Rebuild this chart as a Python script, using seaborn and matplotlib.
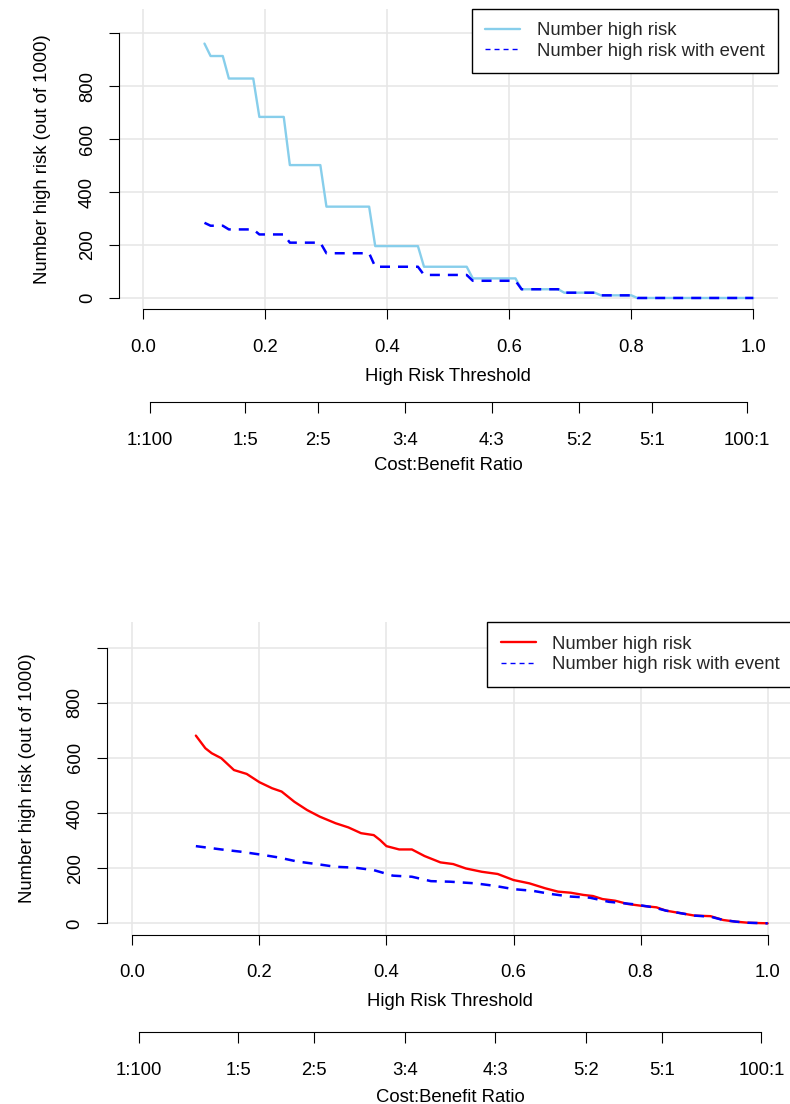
import numpy as np
import pandas as pd
import matplotlib
matplotlib.use("Agg")
import matplotlib.pyplot as plt
import seaborn as sns
from matplotlib.lines import Line2D

# ---------------- data ----------------
# Panel 1: step curves -- threshold where each level starts, and the level
top_level_start = [0.10, 0.11, 0.14, 0.19, 0.24, 0.30, 0.38, 0.46, 0.54, 0.62, 0.69, 0.75, 0.81]
top_high_risk = [961, 914, 829, 684, 502, 345, 196, 118, 74, 33, 20, 10, 0]
top_high_risk_event = [284, 273, 259, 240, 209, 169, 118, 87, 65, 33, 20, 10, 0]

# Panel 2: near-continuous curves
bot_risk_thr = [0.10, 0.115, 0.125, 0.14, 0.16, 0.18, 0.20, 0.22, 0.235, 0.255, 0.275, 0.295,
                0.32, 0.34, 0.36, 0.38, 0.39, 0.40, 0.42, 0.44, 0.46, 0.485, 0.505, 0.525,
                0.55, 0.575, 0.60, 0.625, 0.65, 0.67, 0.69, 0.71, 0.725, 0.74, 0.76, 0.78,
                0.80, 0.825, 0.84, 0.865, 0.885, 0.91, 0.93, 0.95, 0.97, 1.00]
bot_high_risk = [681, 635, 617, 599, 556, 542, 512, 490, 478, 441, 411, 387,
                 363, 348, 327, 320, 302, 280, 268, 268, 244, 221, 215, 199,
                 187, 179, 157, 145, 127, 115, 111, 103, 99, 88, 82, 70,
                 64, 58, 46, 36, 28, 26, 12, 6, 2, 0]
bot_event_thr = [0.10, 0.14, 0.17, 0.20, 0.23, 0.26, 0.29, 0.32, 0.35, 0.38, 0.41, 0.44,
                 0.47, 0.50, 0.54, 0.57, 0.60, 0.63, 0.66, 0.69, 0.72, 0.75, 0.79, 0.82,
                 0.84, 0.865, 0.885, 0.91, 0.93, 0.95, 0.97, 1.00]
bot_high_risk_event = [280, 268, 260, 250, 239, 224, 215, 205, 202, 193, 173, 169,
                       153, 151, 145, 136, 124, 118, 106, 97, 93, 78, 69, 58,
                       46, 36, 28, 24, 12, 6, 2, 0]

x_ticks = [0.0, 0.2, 0.4, 0.6, 0.8, 1.0]
x_tick_labels = ["0.0", "0.2", "0.4", "0.6", "0.8", "1.0"]
y_ticks = [0, 200, 400, 600, 800, 1000]
y_tick_labels = ["0", "200", "400", "600", "800", ""]
cb_cost = [1, 1, 2, 3, 4, 5, 5, 100]
cb_benefit = [100, 5, 5, 4, 3, 2, 1, 1]
cb_labels = ["1:100", "1:5", "2:5", "3:4", "4:3", "5:2", "5:1", "100:1"]

legend_labels = ["Number high risk", "Number high risk with event"]

# ---------------- style ----------------
sns.set_style("white")
plt.rcParams['font.family'] = ['Liberation Sans', 'DejaVu Sans']
FS = 13.3
GRID = "#E6E6E6"

fig = plt.figure(figsize=(7.9, 11.04), dpi=100)
W, H = 790.0, 1104.0


def step_frame(starts, levels):
    grid = np.round(np.arange(0.10, 1.0001, 0.01), 2)
    idx = np.searchsorted(np.array(starts), grid + 1e-9, side="right") - 1
    return pd.DataFrame({"threshold": grid, "n": np.array(levels)[idx]})


def panel(px_left, px_right, px_top, px_bottom, cost_px, risk_df, event_df, risk_color,
          xlab_y, ylab_x):
    ax = fig.add_axes([px_left / W, 1 - px_bottom / H, (px_right - px_left) / W,
                       (px_bottom - px_top) / H])
    ax.set_xlim(-0.04, 1.04)
    ax.set_ylim(-42, 1092)

    sns.lineplot(data=risk_df, x="threshold", y="n", ax=ax, color=risk_color,
                 linewidth=1.7, estimator=None, sort=True)
    sns.lineplot(data=event_df, x="threshold", y="n", ax=ax, color="#0000FF",
                 linewidth=1.8, linestyle=(0, (4.0, 3.2)), estimator=None, sort=True)

    ax.set_xticks(x_ticks)
    ax.set_xticklabels(x_tick_labels)
    ax.set_yticks(y_ticks)
    ax.set_yticklabels(y_tick_labels, rotation=90, va="center")
    ax.grid(True, color=GRID, linewidth=1.1)
    ax.set_axisbelow(True)
    for s in ["top", "right"]:
        ax.spines[s].set_visible(False)
    for s in ["left", "bottom"]:
        ax.spines[s].set_color("black")
        ax.spines[s].set_linewidth(0.8)
    ax.spines["left"].set_bounds(0, 1000)
    ax.spines["bottom"].set_bounds(0, 1)
    ax.tick_params(axis="both", direction="out", length=7.2, width=0.8, color="black",
                   labelsize=FS, labelcolor="black")
    ax.tick_params(axis="x", pad=14.0, bottom=True)
    ax.tick_params(axis="y", pad=9.5, left=True)

    ax.set_xlabel("High Risk Threshold", fontsize=FS, color="black")
    ax.xaxis.label.set_va("center")
    ax.xaxis.set_label_coords(0.5, xlab_y)
    ax.set_ylabel("Number high risk (out of 1000)", fontsize=FS, color="black")
    ax.yaxis.label.set_va("center")
    ax.yaxis.label.set_rotation_mode("default")
    ax.yaxis.set_label_coords(ylab_x, 0.5)

    handles = [Line2D([], [], color=risk_color, linewidth=1.7),
               Line2D([], [], color="#0000FF", linewidth=1.0, linestyle=(0, (3.6, 2.9)))]
    leg = ax.legend(handles, legend_labels, loc="upper right", bbox_to_anchor=(1, 1),
                    borderaxespad=0, frameon=True, fancybox=False, edgecolor="black",
                    framealpha=1, fontsize=FS, handlelength=1.9, handletextpad=0.88,
                    borderpad=0.72, labelspacing=0.2)
    leg.get_frame().set_linewidth(1.0)

    # cost:benefit axis
    cax = fig.add_axes([px_left / W, 1 - cost_px / H, (px_right - px_left) / W, 0.0001])
    cax.set_xlim(-0.04, 1.04)
    cax.set_ylim(0, 1)
    cax.patch.set_visible(False)
    for s in ["top", "right", "left"]:
        cax.spines[s].set_visible(False)
    pos = [c / (c + b) for c, b in zip(cb_cost, cb_benefit)]
    cax.spines["bottom"].set_bounds(pos[0], pos[-1])
    cax.spines["bottom"].set_color("black")
    cax.spines["bottom"].set_linewidth(0.8)
    cax.set_yticks([])
    cax.set_xticks(pos)
    cax.set_xticklabels(cb_labels)
    cax.tick_params(axis="x", direction="out", length=8.2, width=0.8, color="black",
                    labelsize=FS, labelcolor="black", pad=13.2, bottom=True)
    cax.set_xlabel("Cost:Benefit Ratio", fontsize=FS, color="black")
    cax.xaxis.label.set_va("center")
    cax.xaxis.set_label_coords(0.5, -0.52, transform=ax.transAxes)
    return ax


top_risk_df = step_frame(top_level_start, top_high_risk)
top_event_df = step_frame(top_level_start, top_high_risk_event)
panel(119.1, 777.7, 8.9, 309.1, 402.3, top_risk_df, top_event_df, "#87CEEB",
      -0.225, -0.1167)

bot_risk_df = pd.DataFrame({"threshold": bot_risk_thr, "n": bot_high_risk})
bot_event_df = pd.DataFrame({"threshold": bot_event_thr, "n": bot_high_risk_event})
panel(106.9, 793.1, 622.3, 934.9, 1032.0, bot_risk_df, bot_event_df, "#FF0000",
      -0.212, -0.1155)

fig.savefig("out.png", dpi=100, facecolor="white")
